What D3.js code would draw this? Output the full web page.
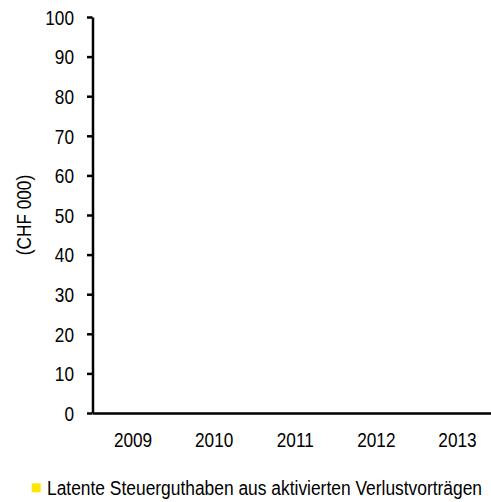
<!DOCTYPE html>
<html><head><meta charset="utf-8">
<script src="https://cdn.jsdelivr.net/npm/d3@7"></script>
<style>
html,body{margin:0;padding:0;background:#fff;overflow:hidden;}
svg text{font-family:"Liberation Sans",Arial,sans-serif;fill:#000;}
</style></head><body>
<script>
const categories = ["2009","2010","2011","2012","2013"];
const values = [0,0,0,0,0];
const yTicks = [0,10,20,30,40,50,60,70,80,90,100];
const seriesName = "Latente Steuerguthaben aus aktivierten Verlustvorträgen";
const yTitle = "(CHF 000)";

const W=491,H=502;
const SX=0.82; // horizontal condense to mimic Arial Narrow
const plot={left:92.5,right:498,top:17,bottom:413};
const svg=d3.select("body").append("svg").attr("width",W).attr("height",H);
const x=d3.scaleBand().domain(categories).range([plot.left,plot.right]).paddingInner(0.4).paddingOuter(0.2);
const xl=d3.scaleBand().domain(categories).range([plot.left,plot.right]);
const y=d3.scaleLinear().domain([0,100]).range([plot.bottom,plot.top]);

svg.selectAll("rect.bar").data(values).join("rect").attr("class","bar")
 .attr("x",(d,i)=>x(categories[i])).attr("width",x.bandwidth())
 .attr("y",d=>y(d)).attr("height",d=>y(0)-y(d)).attr("fill","#FFE600");

const ya=svg.append("g").attr("transform",`translate(${plot.left},0)`)
 .call(d3.axisLeft(y).tickValues(yTicks).tickSize(5.5).tickPadding(18).tickSizeOuter(0));
ya.attr("font-family",null);
ya.select(".domain").attr("stroke","#000").attr("stroke-width",2.5);
ya.selectAll(".tick line").attr("stroke","#000").attr("stroke-width",2.5);
ya.selectAll("text").attr("font-size",21).attr("dy","0.35em")
 .attr("x",-18.5/SX).attr("transform",`scale(${SX},1)`);

const xa=svg.append("g").attr("transform",`translate(0,${plot.bottom})`)
 .call(d3.axisBottom(xl).tickSize(0).tickSizeOuter(0));
xa.attr("font-family",null);
xa.select(".domain").attr("stroke","#000").attr("stroke-width",2.5);
xa.selectAll("text").attr("font-size",21).attr("y",34).attr("dy",null)
 .attr("transform",`scale(${SX},1)`);

svg.append("text").attr("transform",`translate(31,${(plot.top+plot.bottom)/2}) rotate(-90) scale(${SX},1)`)
 .attr("text-anchor","middle").attr("font-size",21).text(yTitle);

const lg=svg.append("g").attr("transform","translate(31.7,483.3)");
lg.append("rect").attr("width",9).attr("height",9).attr("fill","#FFE600");
lg.append("text").attr("transform","translate(15.3,11.7) scale(0.87,1)")
 .attr("font-size",20).text(seriesName);
</script></body></html>
